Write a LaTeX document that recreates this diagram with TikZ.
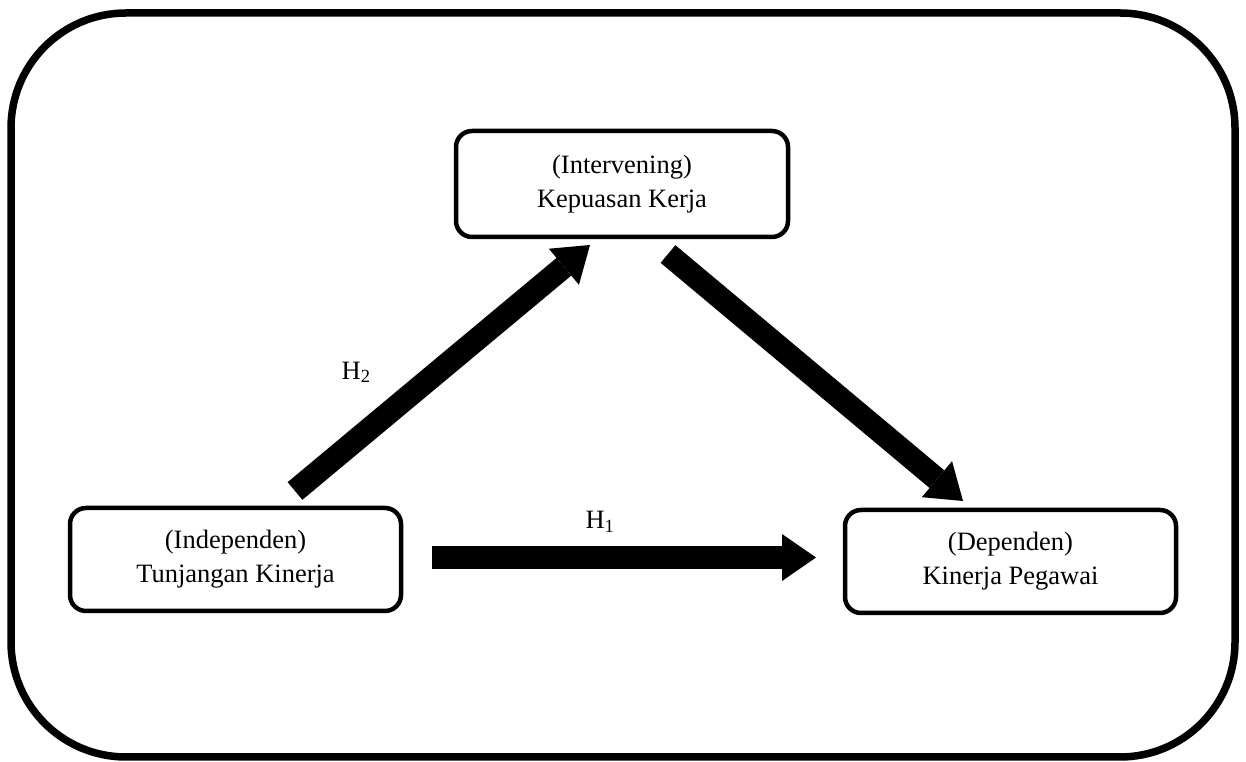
\documentclass[tikz,border=0pt]{standalone}
\usepackage{fontspec}
\setmainfont{Liberation Serif}
\usetikzlibrary{positioning, arrows.meta, calc}

\begin{document}
\begin{tikzpicture}[x=1pt, y=1pt,
    varbox/.style={draw, line width=4.5pt, rounded corners=16pt, minimum width=331pt, minimum height=103pt, align=center, inner sep=0pt, font=\fontsize{26.5}{34}\selectfont},
    hyparrow/.style={line width=23pt, -{Triangle[length=34pt, width=47pt, line width=0pt]}},
    hyplabel/.style={font=\fontsize{26.5}{34}\selectfont, inner sep=0pt, anchor=base}]
    \useasboundingbox (0,0) rectangle (1246,762);
    \draw[line width=7.5pt, rounded corners=115pt] (11,5) rectangle (1235,749);
    \node[varbox, minimum width=332pt, minimum height=106pt] (mid) at (622,578) {(Intervening)\\Kepuasan Kerja};
    \node[varbox] (ind) at (235.5,202.5) {(Independen)\\Tunjangan Kinerja};
    \node[varbox] (dep) at (1010.5,200.5) {(Dependen)\\Kinerja Pegawai};
    \draw[hyparrow] ([shift={(28.75,2)}]ind.east) -- ([shift={(-26.75,4)}]dep.west)
        node[hyplabel, pos=0.4375, yshift=28.5pt] {H\textsubscript{1}};
    \draw[hyparrow] ([shift={(59.5,14.75)}]ind.north) -- ([shift={(-32,-5.75)}]mid.south)
        node[hyplabel, pos=0.207, yshift=61pt] {H\textsubscript{2}};
    \draw[hyparrow] ([shift={(46,-14.75)}]mid.south) -- ([shift={(-47.5,6.75)}]dep.north);
\end{tikzpicture}
\end{document}
